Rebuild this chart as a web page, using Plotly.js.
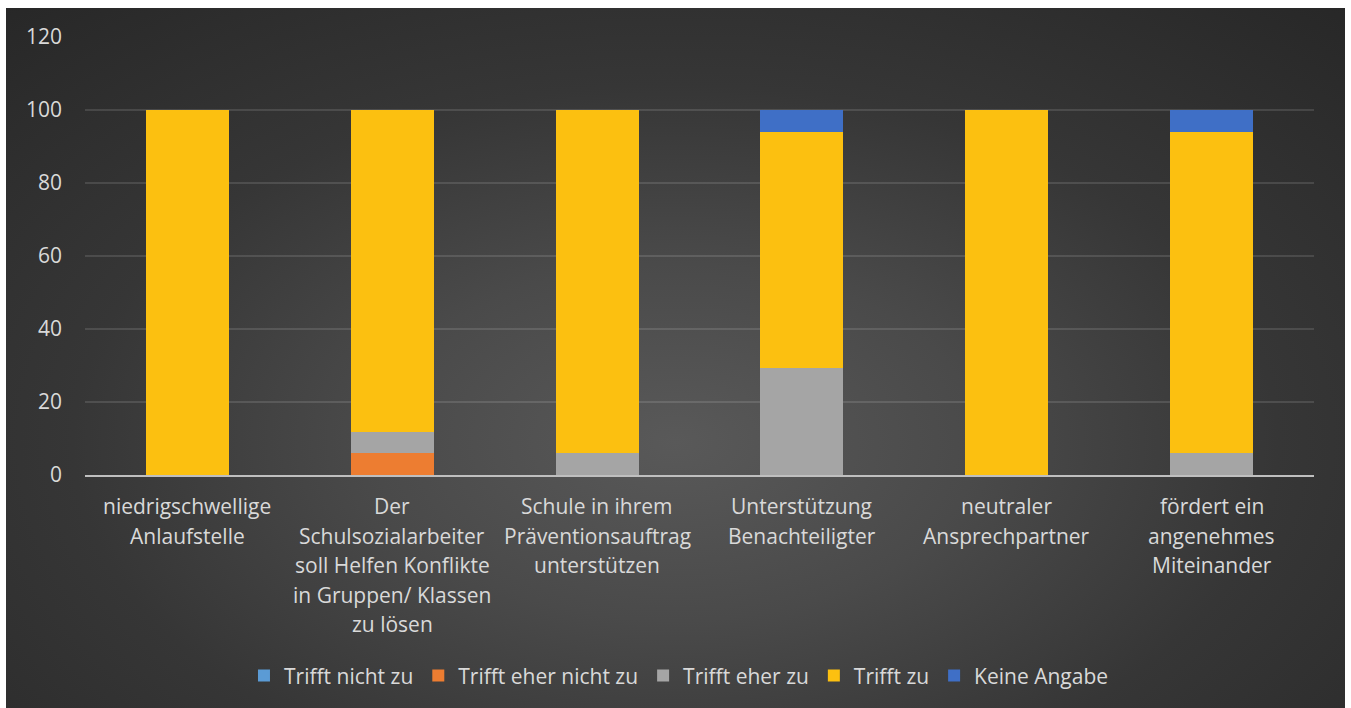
<!DOCTYPE html>
<html>
<head>
<meta charset="utf-8">
<script src="https://cdn.plot.ly/plotly-3.0.1.min.js"></script>
<style>
  html, body { margin: 0; padding: 0; background: #ffffff; width: 1351px; height: 708px; overflow: hidden; }
  #frame {
    position: absolute; left: 6px; top: 8px; width: 1339px; height: 700px;
    background: radial-gradient(ellipse 75% 85% at 50% 62%, #595959 0%, #4a4a4a 30%, #363636 60%, #272727 100%);
  }
  #chart { width: 1339px; height: 700px; }
</style>
</head>
<body>
<div id="frame"><div id="chart"></div></div>
<script>
// ---- data ----
const categories = [
  "niedrigschwellige<br>Anlaufstelle",
  "Der<br>Schulsozialarbeiter<br>soll Helfen Konflikte<br>in Gruppen/ Klassen<br>zu lösen",
  "Schule in ihrem<br>Präventionsauftrag<br>unterstützen",
  "Unterstützung<br>Benachteiligter",
  "neutraler<br>Ansprechpartner",
  "fördert ein<br>angenehmes<br>Miteinander"
];
const seriesNames = ["Trifft nicht zu", "Trifft eher nicht zu", "Trifft eher zu", "Trifft zu", "Keine Angabe"];
const triffNichtZu     = [0, 0,   0,   0,    0, 0];
const triffEherNichtZu = [0, 5.9, 0,   0,    0, 0];
const triffEherZu      = [0, 5.9, 5.9, 29.4, 0, 5.9];
const triffZu          = [100, 88.2, 94.1, 64.7, 100, 88.2];
const keineAngabe      = [0, 0,   0,   5.9,  0, 5.9];
const yTicks = [0, 20, 40, 60, 80, 100, 120];

const seriesValues = [triffNichtZu, triffEherNichtZu, triffEherZu, triffZu, keineAngabe];
const seriesColors = ["#5b9bd5", "#ed7d31", "#a5a5a5", "#fcc010", "#3f6fc6"];

const xIdx = categories.map((c, i) => i);

const traces = seriesNames.map((name, k) => ({
  type: "bar",
  name: name,
  x: xIdx,
  y: seriesValues[k],
  marker: { color: seriesColors[k], line: { width: 0 } },
  hoverinfo: "x+y+name"
}));

const fontFamily = "'Open Sans', 'Noto Sans', sans-serif";
const labelFont = { family: fontFamily, size: 21, color: "#d9d9d9" };

// category labels as per-line annotations (for Excel-like line spacing)
const annotations = [];
categories.forEach((cat, i) => {
  cat.split("<br>").forEach((line, j) => {
    annotations.push({
      x: i, y: 0, xref: "x", yref: "y",
      text: line, showarrow: false,
      xanchor: "center", yanchor: "middle",
      yshift: -(31 + j * 29.5),
      font: labelFont
    });
  });
});

const layout = {
  width: 1339, height: 700,
  paper_bgcolor: "rgba(0,0,0,0)",
  plot_bgcolor: "rgba(0,0,0,0)",
  margin: { l: 79, r: 31, t: 29, b: 233 },
  barmode: "stack",
  bargap: 0.595,
  showlegend: true,
  legend: {
    orientation: "h",
    xref: "container", yref: "container",
    x: 0.5026, xanchor: "center",
    y: 0.046, yanchor: "middle",
    font: { family: fontFamily, size: 21, color: "#d9d9d9" },
    itemwidth: 30,
    traceorder: "normal",
    bgcolor: "rgba(0,0,0,0)"
  },
  xaxis: {
    range: [-0.5, 5.5],
    tickvals: xIdx,
    ticktext: xIdx.map(() => ""),
    showgrid: false,
    zeroline: false,
    showline: true,
    linecolor: "#bfbfbf",
    linewidth: 2,
    ticks: "",
    fixedrange: true
  },
  yaxis: {
    range: [0, 120],
    tickvals: yTicks,
    ticktext: yTicks.map(String),
    showgrid: true,
    gridcolor: "rgba(255,255,255,0.12)",
    gridwidth: 1.5,
    zeroline: false,
    showline: false,
    ticks: "",
    ticklabelstandoff: 22,
    tickfont: labelFont,
    fixedrange: true
  },
  annotations: annotations,
  font: labelFont
};

Plotly.newPlot("chart", traces, layout, { displayModeBar: false, staticPlot: false });
</script>
</body>
</html>
